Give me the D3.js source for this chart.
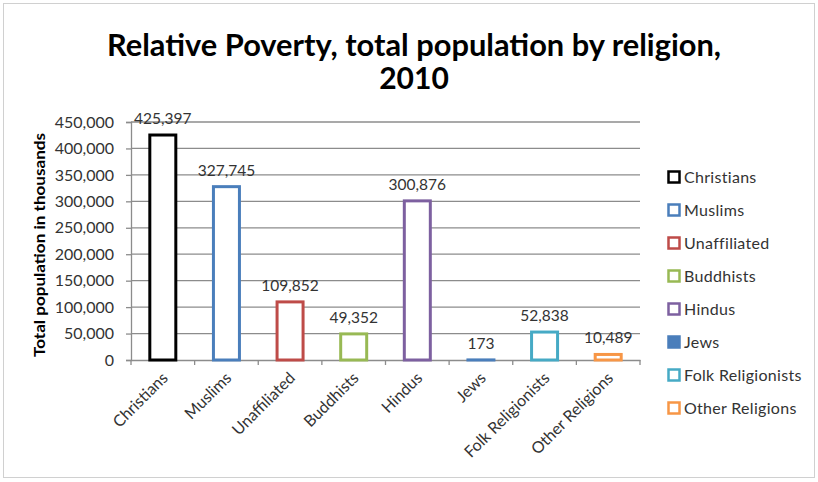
<!DOCTYPE html>
<html><head><meta charset="utf-8">
<script src="https://cdn.jsdelivr.net/npm/d3@7"></script>
<style>body{margin:0;background:#fff}svg{display:block}</style>
</head><body>
<svg id="c" width="818" height="482"></svg>
<script>
const categories = ["Christians","Muslims","Unaffiliated","Buddhists","Hindus","Jews","Folk Religionists","Other Religions"];
const values = [425397,327745,109852,49352,300876,173,52838,10489];
const colors = ["#000000","#4a7ebb","#be4b48","#98b954","#7d60a0","#4a7ebb","#46aac5","#f79646"];
const yTicks = [0,50000,100000,150000,200000,250000,300000,350000,400000,450000];
const titleLines = ["Relative Poverty, total population by religion,","2010"];
const yTitle = "Total population  in thousands";

const svg = d3.select("#c");
const font = "Lato, 'Open Sans', sans-serif";
svg.append("rect").attr("x",3.5).attr("y",3.5).attr("width",811).attr("height",474)
  .attr("fill","#fff").attr("stroke","#d0d0d0").attr("stroke-width",1);

const m = {l:131, r:640, t:122, b:360};
const x = d3.scaleBand().domain(categories).range([m.l,m.r]).paddingInner(0).paddingOuter(0);
const y = d3.scaleLinear().domain([0,450000]).range([m.b,m.t]);

// title
svg.append("g").selectAll("text").data(titleLines).join("text")
  .attr("x",414).attr("y",(d,i)=>56+i*33).attr("text-anchor","middle")
  .attr("font-family",font).attr("font-weight","bold").attr("font-size",30).attr("fill","#000")
  .attr("textLength",(d,i)=>i===0?614:null).attr("lengthAdjust","spacingAndGlyphs")
  .text(d=>d);

// gridlines
svg.append("g").selectAll("line").data(yTicks.slice(1)).join("line")
  .attr("x1",m.l).attr("x2",m.r).attr("y1",d=>y(d)).attr("y2",d=>y(d))
  .attr("stroke","#8c8c8c").attr("stroke-width",1.3);

// y axis
const ya = svg.append("g").attr("transform",`translate(${m.l},0)`)
  .call(d3.axisLeft(y).tickValues(yTicks).tickFormat(d3.format(",")).tickSize(5).tickPadding(12));
ya.select(".domain").attr("stroke","#8c8c8c").attr("stroke-width",1.3);
ya.selectAll(".tick line").attr("stroke","#8c8c8c").attr("stroke-width",1.3);
ya.selectAll("text").attr("font-family",font).attr("font-size",16).attr("fill","#333");

// x axis
const xa = svg.append("g").attr("transform",`translate(0,${m.b})`)
  .call(d3.axisBottom(x).tickSize(0).tickFormat(""));
xa.select(".domain").attr("stroke","#8c8c8c").attr("stroke-width",1.3);
svg.append("g").selectAll("line").data(d3.range(categories.length+1)).join("line")
  .attr("x1",i=>m.l+i*x.step()).attr("x2",i=>m.l+i*x.step())
  .attr("y1",m.b).attr("y2",m.b+5).attr("stroke","#8c8c8c").attr("stroke-width",1.3);
svg.append("g").selectAll("text").data(categories).join("text")
  .attr("transform",d=>`translate(${x(d)+x.bandwidth()/2+6},${m.b+19}) rotate(-45)`)
  .attr("text-anchor","end").attr("font-family",font).attr("font-size",16).attr("fill","#333")
  .text(d=>d);

// y title
svg.append("text").attr("transform",`translate(45,${(m.t+m.b)/2+4}) rotate(-90)`)
  .attr("text-anchor","middle").attr("font-family",font).attr("font-weight","bold")
  .attr("font-size",15).attr("fill","#000")
  .attr("textLength",224).attr("lengthAdjust","spacingAndGlyphs").text(yTitle);

// bars
const bw = 26;
const data = categories.map((c,i)=>({c,v:values[i],col:colors[i]}));
svg.append("g").selectAll("rect").data(data).join("rect")
  .attr("x",d=>x(d.c)+x.bandwidth()/2-bw/2).attr("width",bw)
  .attr("y",d=>y(d.v)).attr("height",d=>Math.max(0,m.b-y(d.v)))
  .attr("fill","#fff").attr("stroke",d=>d.col).attr("stroke-width",3);

// value labels
svg.append("g").selectAll("text").data(data).join("text")
  .attr("x",d=>x(d.c)+x.bandwidth()/2).attr("y",d=>y(d.v)-11)
  .attr("text-anchor","middle").attr("font-family",font).attr("font-size",15.5).attr("fill","#333")
  .text(d=>d3.format(",")(d.v));

// legend
const lg = svg.append("g").selectAll("g").data(data).join("g")
  .attr("transform",(d,i)=>`translate(667,${177+i*33})`);
lg.append("rect").attr("x",1.5).attr("y",-5.5).attr("width",11).attr("height",11)
  .attr("fill",d=>d.c==="Jews"?d.col:"#fff").attr("stroke",d=>d.col).attr("stroke-width",2.5);
lg.append("text").attr("x",17).attr("y",5.5).attr("font-family",font).attr("font-size",16)
  .attr("letter-spacing",0.3).attr("fill","#333").text(d=>d.c);
</script>
</body></html>
